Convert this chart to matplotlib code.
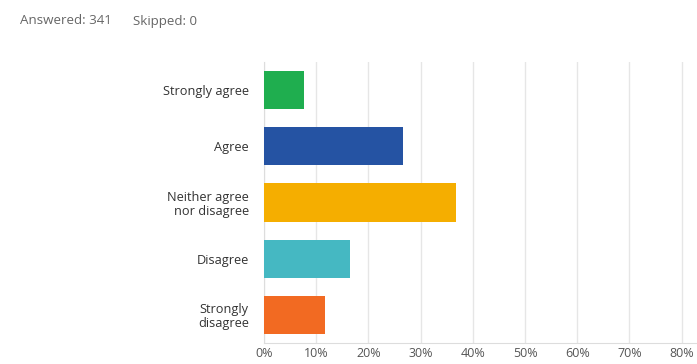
import matplotlib
matplotlib.use("Agg")
import matplotlib.pyplot as plt

categories = ["Strongly agree", "Agree", "Neither agree\nnor disagree", "Disagree", "Strongly\ndisagree"]
percentages = [7.6, 26.7, 36.7, 16.4, 11.7]
bar_colors = ["#1fae4f", "#2553a3", "#f5ae00", "#45b8c2", "#f26a22"]
tick_values = [0, 10, 20, 30, 40, 50, 60, 70, 80]
tick_labels = ["0%", "10%", "20%", "30%", "40%", "50%", "60%", "70%", "80%"]

plt.rcParams["font.family"] = ["Open Sans", "DejaVu Sans"]

W, H = 697, 364
fig = plt.figure(figsize=(W / 100, H / 100), dpi=100)
fig.patch.set_facecolor("white")

left, right, top, bottom = 264, 697, 62, 343
ax = fig.add_axes([left / W, 1 - bottom / H, (right - left) / W, (bottom - top) / H])

y = list(range(len(categories)))
ax.barh(y, percentages, height=0.68, color=bar_colors, zorder=3)
ax.set_ylim(len(categories) - 0.5, -0.5)
ax.set_xlim(0, 80 * (right - left) / (681.7 - left))

ax.set_xticks(tick_values)
ax.set_xticklabels(tick_labels)
ax.set_yticks(y)
ax.set_yticklabels(categories, ha="right", multialignment="right", linespacing=1.1)
ax.tick_params(axis="x", length=0, pad=3, labelsize=9, labelcolor="#555555")
ax.tick_params(axis="y", length=0, pad=11, labelsize=9.2, labelcolor="#333333")

ax.grid(axis="x", color="#e6e6e6", linewidth=1, zorder=0)
for side in ("top", "right"):
    ax.spines[side].set_visible(False)
ax.spines["left"].set_color("#dddddd")
ax.spines["bottom"].set_color("#dddddd")

fig.text(20 / W, 1 - 21 / H, "Answered: 341", fontsize=9.6, color="#666666", va="center", ha="left")
fig.text(133 / W, 1 - 21 / H, "Skipped: 0", fontsize=9.6, color="#666666", va="center", ha="left")

fig.savefig("out.png", dpi=100, facecolor="white")
